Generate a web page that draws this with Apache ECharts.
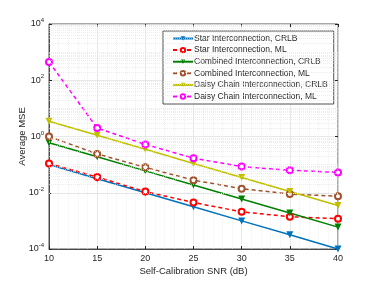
<!DOCTYPE html>
<html><head><meta charset="utf-8">
<script src="https://cdn.jsdelivr.net/npm/echarts@6/dist/echarts.min.js"></script>
<style>html,body{margin:0;padding:0;background:#fff}#c{width:374px;height:281px}</style>
</head><body><div id="c"></div>
<script>
const snr = [10, 15, 20, 25, 30, 35, 40];
const starCRLB = [0.1, 0.0316, 0.01, 0.0032, 0.001, 0.00032, 0.0001];
const starML = [0.11, 0.036, 0.011, 0.0045, 0.0021, 0.0014, 0.0012];
const combCRLB = [0.6, 0.19, 0.06, 0.019, 0.006, 0.0019, 0.0006];
const combML = [1.0, 0.24, 0.08, 0.028, 0.014, 0.009, 0.0075];
const daisyCRLB = [3.5, 1.1, 0.35, 0.11, 0.035, 0.011, 0.0035];
const daisyML = [450, 2.0, 0.52, 0.17, 0.085, 0.063, 0.053];
const xTicks = [10, 15, 20, 25, 30, 35, 40];
const yExps = [-4, -2, 0, 2, 4];

const font = '"Liberation Sans", Arial, sans-serif';
const txt = '#262626';
const minorVals = [];
for (let e = -4; e < 4; e++) {
  for (let m = 1; m <= 9; m++) {
    if (m === 1 && e % 2 === 0) continue;
    minorVals.push(m * Math.pow(10, e));
  }
}
function mk(name, data, color, crlb) {
  return {
    name, type: 'line', data: snr.map((x, i) => [x, data[i]]),
    xAxisIndex: 0, yAxisIndex: 0,
    symbol: crlb ? 'triangle' : 'emptyCircle',
    symbolRotate: crlb ? 180 : 0,
    symbolSize: crlb ? 7 : 6,
    showSymbol: true,
    lineStyle: { color, width: 1.5, type: crlb ? 'solid' : [4, 3] },
    itemStyle: { color, borderColor: color, borderWidth: crlb ? 0 : 1.5 },
    z: 3
  };
}
const chart = echarts.init(document.getElementById('c'), null, { renderer: 'canvas' });
chart.setOption({
  animation: false,
  grid: { left: 49, right: 36, top: 24, bottom: 31, show: true, borderColor: '#262626', borderWidth: 0.8, backgroundColor: '#fff' },
  xAxis: [{
    type: 'value', min: 10, max: 40, interval: 5,
    name: 'Self-Calibration SNR (dB)', nameLocation: 'middle', nameGap: 17, nameMoveOverlap: false,
    nameTextStyle: { fontFamily: font, fontSize: 9.5, color: txt },
    axisLine: { lineStyle: { color: '#262626', width: 0.8 } },
    axisTick: { inside: true, length: 3, lineStyle: { color: '#262626' } },
    axisLabel: { fontFamily: font, fontSize: 9, color: txt, margin: 5 },
    splitLine: { show: true, lineStyle: { color: '#e2e2e2', width: 0.8 } },
    minorTick: { show: false, splitNumber: 5 },
    minorSplitLine: { show: true, lineStyle: { color: '#e6e6e6', width: 0.6, type: [1, 1] } }
  }, {
    type: 'value', min: 10, max: 40, interval: 5, position: 'top',
    axisLine: { show: false }, axisTick: { inside: true, length: 3, lineStyle: { color: '#262626' } },
    axisLabel: { show: false }, splitLine: { show: false }
  }],
  yAxis: [{
    type: 'log', logBase: 10, min: 1e-4, max: 1e4, interval: 2,
    name: 'Average MSE', nameLocation: 'middle', nameGap: 22, nameMoveOverlap: false,
    nameTextStyle: { fontFamily: font, fontSize: 9.5, color: txt },
    axisLine: { lineStyle: { color: '#262626', width: 0.8 } },
    axisTick: { inside: true, length: 3, lineStyle: { color: '#262626' } },
    axisLabel: {
      fontFamily: font, color: txt, margin: 5,
      formatter: v => { const e = Math.round(Math.log10(v)); return '{b|10}{s|' + e + '}'; },
      rich: { b: { fontSize: 9, fontFamily: font, color: txt }, s: { fontSize: 6, fontFamily: font, color: txt, padding: [0, 0, 7, 0] } }
    },
    splitLine: { show: true, lineStyle: { color: '#e2e2e2', width: 0.8 } }
  }, {
    type: 'log', logBase: 10, min: 1e-4, max: 1e4, interval: 2, position: 'right',
    axisLine: { show: false }, axisTick: { inside: true, length: 3, lineStyle: { color: '#262626' } },
    axisLabel: { show: false }, splitLine: { show: false }
  }],
  legend: {
    orient: 'vertical', left: 163, top: 31, width: 170,
    backgroundColor: '#fff', borderColor: '#262626', borderWidth: 0.8,
    padding: [3, 6, 3, 9], itemGap: 2.6, itemWidth: 20, itemHeight: 5.5,
    textStyle: { fontFamily: font, fontSize: 8.5, color: txt, padding: [0, 0, 0, -4] },
    data: ['Star Interconnection, CRLB', 'Star Interconnection, ML', 'Combined Interconnection, CRLB', 'Combined Interconnection, ML', 'Daisy Chain Interconnection, CRLB', 'Daisy Chain Interconnection, ML']
  },
  series: [
    {
      type: 'line', data: [], xAxisIndex: 0, yAxisIndex: 0, silent: true, z: 1,
      markLine: {
        silent: true, symbol: 'none', label: { show: false },
        lineStyle: { color: '#e2e2e2', width: 0.6, type: [1, 1] },
        data: minorVals.map(v => ({ yAxis: v }))
      }
    },
    mk('Star Interconnection, CRLB', starCRLB, '#0072BD', true),
    mk('Star Interconnection, ML', starML, '#FF0000', false),
    mk('Combined Interconnection, CRLB', combCRLB, '#008000', true),
    mk('Combined Interconnection, ML', combML, '#A0522D', false),
    mk('Daisy Chain Interconnection, CRLB', daisyCRLB, '#BFBF00', true),
    mk('Daisy Chain Interconnection, ML', daisyML, '#FF00FF', false)
  ]
});
</script></body></html>
